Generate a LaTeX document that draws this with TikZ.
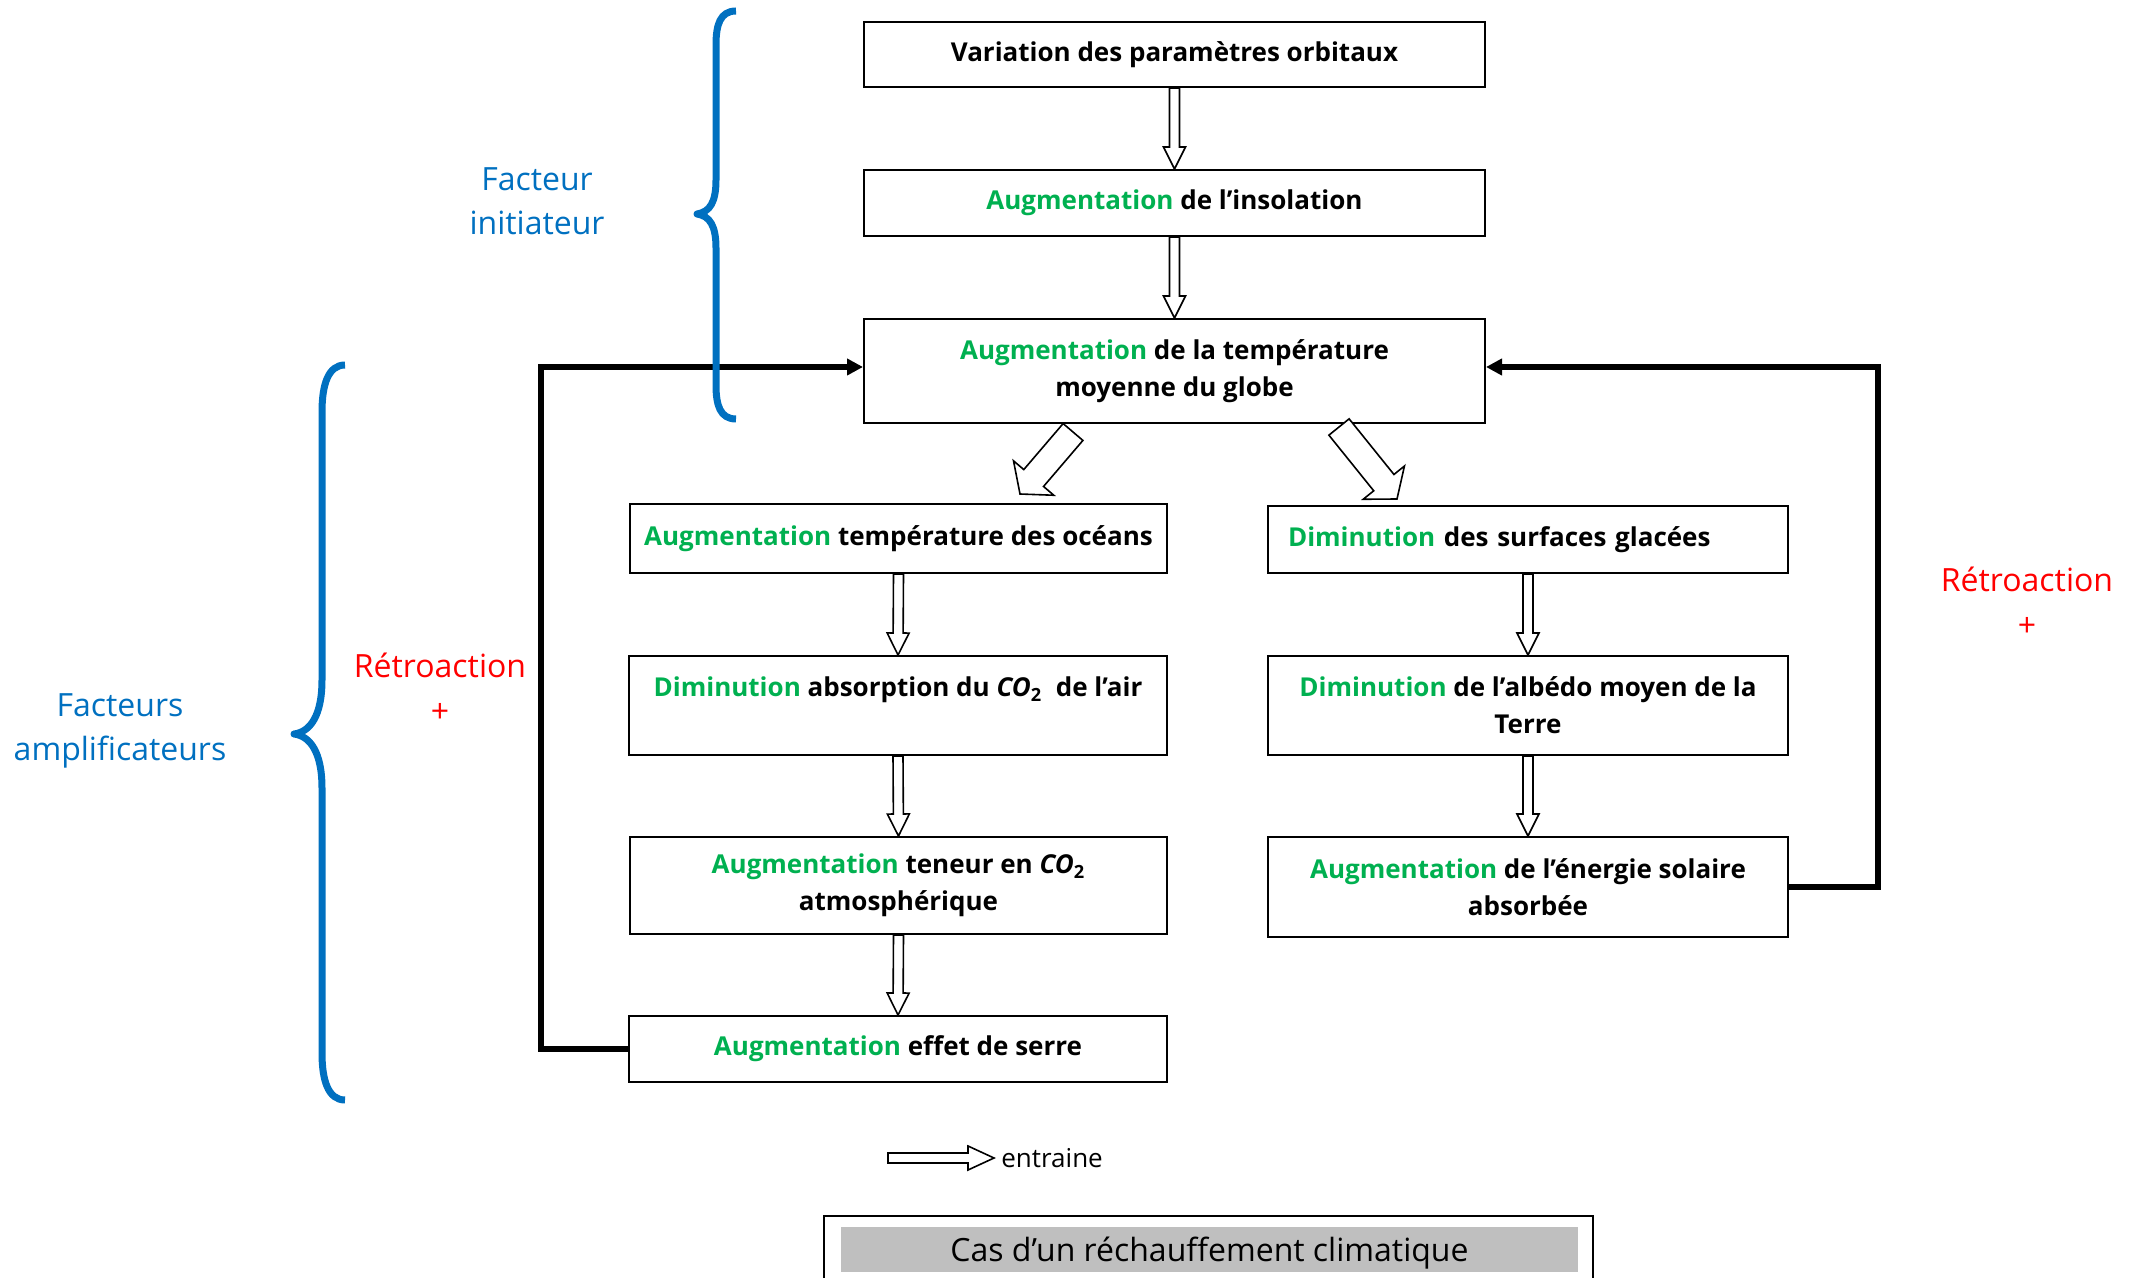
\documentclass[tikz,border=0pt]{standalone}
\usepackage{fontspec}
\setmainfont{Open Sans}
\usetikzlibrary{calc,arrows.meta}
\definecolor{grn}{HTML}{00B050}
\definecolor{blu}{HTML}{0070C0}
\definecolor{rd}{HTML}{FF0000}
\definecolor{gry}{HTML}{BFBFBF}
\newcommand\gr[1]{\textcolor{grn}{#1}}
\newcommand\cotwo{\textit{CO}\textsubscript{2}}
\begin{document}
\begin{tikzpicture}[x=0.5pt,y=-0.5pt,
  box/.style={draw, line width=1pt, inner sep=0pt, align=center,
    font=\bfseries\fontsize{13}{18.5}\selectfont},
  hollow/.style n args={3}{draw, fill=white, line width=0.8pt, line join=miter,
    to path={let \p1=(\tikztostart), \p2=(\tikztotarget),
      \n1={atan2(\y2-\y1,\x2-\x1)}, \n2={veclen(\x2-\x1,\y2-\y1)} in
      ($(\p1)+(\n1+90:#1pt)$) -- ++(\n1:{(\n2-#3)*1pt}) -- ++(\n1+90:{(#2-#1)*1pt})
      -- (\p2) -- ++({\n1-180+atan(#2/#3)}:{veclen(#2,#3)*1pt})
      -- ++(\n1+90:{(#2-#1)*1pt}) -- ++(\n1+180:{(\n2-#3)*1pt}) -- cycle}},
  vflow/.style={hollow={2.5}{5.5}{11}},
  dflow/.style={hollow={6.5}{13.25}{10.5}},
  feedback/.style={line width=3pt, line join=miter, -{Triangle[length=8pt,width=8pt]}},
  brace/.style={draw=blu, line width=3.5pt, line join=round},
  bluetext/.style={text=blu, align=center, font=\fontsize{16}{22}\selectfont},
  redtext/.style={text=rd, align=center, font=\fontsize{16}{22.5}\selectfont},
]
\useasboundingbox (0,0) rectangle (2138,1278);

% main boxes
\node[box, minimum width=310.5pt, minimum height=32.5pt] (b1) at (1174.5,54.5) {Variation des paramètres orbitaux};
\node[box, minimum width=310.5pt, minimum height=33pt] (b2) at (1174.5,203) {\gr{Augmentation} de l'insolation};
\node[box, minimum width=310.5pt, minimum height=52pt] (b3) at (1174.5,371) {\gr{Augmentation} de la température\\moyenne du globe};

\node[box, minimum width=268.5pt, minimum height=34.5pt] (l1) at (898.5,538.5) {\gr{Augmentation} température des océans};
\node[box, minimum width=269pt, minimum height=49.5pt] (l2) at (898,705.5) {\gr{Diminution} absorption du \cotwo\ \ de l'air\\\mbox{}};
\node[box, minimum width=268.5pt, minimum height=48.5pt] (l3) at (898.5,885.5) {\gr{Augmentation} teneur en \cotwo\\atmosphérique};
\node[box, minimum width=269pt, minimum height=33pt] (l4) at (898,1049) {\gr{Augmentation} effet de serre};

\node[box, minimum width=260pt, minimum height=33.5pt, text width=240pt, align=left] (r1) at (1528,539.5) {\gr{Diminution} des surfaces glacées};
\node[box, minimum width=260pt, minimum height=49.5pt] (r2) at (1528,705.5) {\gr{Diminution} de l'albédo moyen de la\\Terre};
\node[box, minimum width=260pt, minimum height=50pt] (r3) at (1528,887) {\gr{Augmentation} de l'énergie solaire\\absorbée};

% hollow arrows
\draw[vflow] (b1.south) to (b2.north);
\draw[vflow] (b2.south) to (b3.north);
\draw[vflow] (l1.south) to (l2.north);
\draw[vflow] (l2.south) to (l3.north);
\draw[vflow] (l3.south) to (l4.north);
\draw[vflow] (r1.south) to (r2.north);
\draw[vflow] (r2.south) to (r3.north);

\coordinate (dla) at (1073,432);
\coordinate (dlb) at (1020,494);
\coordinate (dra) at (1339,427);
\coordinate (drb) at (1397,499);
\draw[dflow] (dla) to (dlb);
\draw[dflow] (dra) to (drb);

% feedback loops
\draw[feedback] (l4.west) -- ++(-87,0) |- ([yshift=2pt]b3.west);
\draw[feedback] (r3.east) -- ++(89,0) |- ([yshift=2pt]b3.east);

% braces
\draw[brace] (736,11) .. controls (720,11) and (716,25) .. (716,45) -- (716,180)
  .. controls (716,202) and (710,212) .. (697,214)
  .. controls (710,216) and (716,226) .. (716,248) -- (716,385)
  .. controls (716,405) and (720,419) .. (736,419);
\draw[brace] (345,365) .. controls (328,365) and (322,385) .. (322,412) -- (322,680)
  .. controls (322,716) and (310,732) .. (294,734)
  .. controls (310,736) and (322,752) .. (322,788) -- (322,1053)
  .. controls (322,1080) and (328,1100) .. (345,1100);

% labels
\node[bluetext] (fi) at (537,201) {Facteur\\initiateur};
\node[bluetext] (fa) at (120,731) {Facteurs\\amplificateurs};
\node[redtext] (rl) at (440,688) {Rétroaction\\+};
\node[redtext] (rr) at (2027,602) {Rétroaction\\+};

% legend
\node[anchor=west, inner sep=0pt, font=\fontsize{13}{15}\selectfont] (ent) at (1001,1158) {entraine};
\coordinate (lga) at (888,1158);
\coordinate (lgb) at (994,1158);
\draw[hollow={2.5}{6}{13}] (lga) to (lgb);

% title
\node[draw, line width=0.8pt, minimum width=384.5pt, minimum height=45pt, inner sep=0pt] (tframe) at (1208.5,1261) {};
\node[fill=gry, minimum width=368.5pt, minimum height=22.5pt, inner sep=0pt, text height=16pt, text depth=4pt, font=\fontsize{16}{18}\selectfont] (title) at (1209.5,1249.5) {Cas d'un réchauffement climatique};
\end{tikzpicture}
\end{document}
